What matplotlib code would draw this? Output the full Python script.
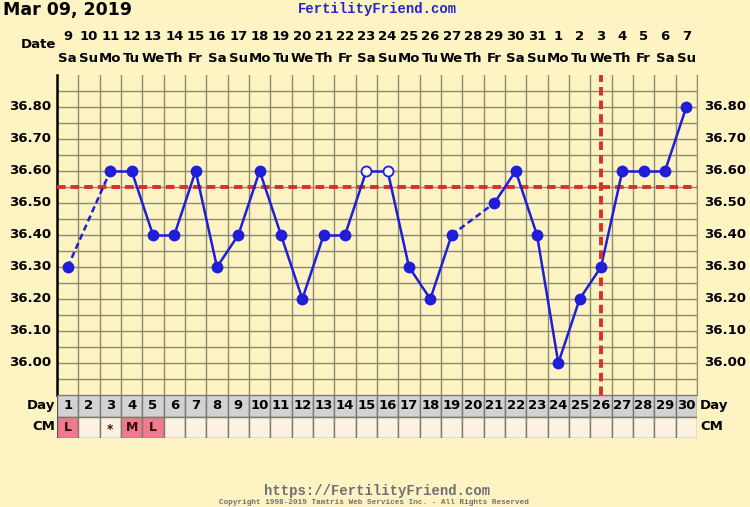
import matplotlib
matplotlib.use('Agg')
import matplotlib.pyplot as plt
import matplotlib.transforms as mtransforms
import numpy as np

# chart data
cycle_days = list(range(1, 31))
dates = ['9', '10', '11', '12', '13', '14', '15', '16', '17', '18', '19', '20', '21', '22', '23',
         '24', '25', '26', '27', '28', '29', '30', '31', '1', '2', '3', '4', '5', '6', '7']
weekdays = ['Sa', 'Su', 'Mo', 'Tu', 'We', 'Th', 'Fr'] * 5
weekdays = weekdays[:30]
temps = [36.30, None, 36.60, 36.60, 36.40, 36.40, 36.60, 36.30, 36.40, 36.60,
         36.40, 36.20, 36.40, 36.40, 36.60, 36.60, 36.30, 36.20, 36.40, None,
         36.50, 36.60, 36.40, 36.00, 36.20, 36.30, 36.60, 36.60, 36.60, 36.80]
open_days = [15, 16]
cm_obs = {1: 'L', 3: '*', 4: 'M', 5: 'L'}
coverline = 36.55
ovulation_day = 26
temp_ticks = [36.00, 36.10, 36.20, 36.30, 36.40, 36.50, 36.60, 36.70, 36.80]

BG = '#fdf3c3'
GRID = '#8f8a72'
BLUE = '#1e1ed8'
RED = '#d9302c'
W, H = 750, 507

fig = plt.figure(figsize=(W / 100, H / 100), dpi=100, facecolor=BG)

def fx(px):
    return px / W

def fy(py):
    return 1 - py / H

# main temperature grid
ax = fig.add_axes([fx(57), fy(395), fx(697) - fx(57), fy(75) - fy(395)])
ax.set_facecolor(BG)
ax.set_xlim(0.5, 30.5)
ax.set_ylim(35.9, 36.9)
ax.set_xticks(np.arange(0.5, 30.6, 1))
ax.set_yticks(np.arange(35.9, 36.86, 0.05))
ax.grid(True, color=GRID, lw=1.0)
ax.tick_params(length=0, labelleft=False, labelbottom=False)
for s in ['top', 'bottom']:
    ax.spines[s].set_visible(False)
ax.spines['right'].set_color(GRID)
ax.spines['left'].set_color('black')
ax.spines['left'].set_linewidth(1.8)

# coverline and ovulation line
ax.axhline(coverline, color=RED, lw=2.8, ls=(0, (2.2, 1.3)), zorder=3)
ax.axvline(ovulation_day, color=RED, lw=2.8, ls=(0, (2.2, 1.3)), zorder=5)

# temperature line
pts = [(d, t) for d, t in zip(cycle_days, temps) if t is not None]
for (d0, t0), (d1, t1) in zip(pts[:-1], pts[1:]):
    style = '-' if d1 - d0 == 1 else (0, (2.5, 1.5))
    ax.plot([d0, d1], [t0, t1], color=BLUE, lw=1.8, ls=style, zorder=4)
for d, t in pts:
    face = 'white' if d in open_days else BLUE
    ax.plot(d, t, 'o', ms=7.2, mfc=face, mec=BLUE, mew=1.3, zorder=6)

# temperature labels both sides
tr = mtransforms.blended_transform_factory(fig.transFigure, ax.transData)
for t in temp_ticks:
    ax.text(fx(51), t, f'{t:.2f}', transform=tr, ha='right', va='center',
            fontsize=9.5, fontweight='bold')
    ax.text(fx(704), t, f'{t:.2f}', transform=tr, ha='left', va='center',
            fontsize=9.5, fontweight='bold')

# date header
trx = mtransforms.blended_transform_factory(ax.transData, fig.transFigure)
for d, lab, wd in zip(cycle_days, dates, weekdays):
    ax.text(d, fy(37), lab, transform=trx, ha='center', va='center',
            fontsize=9.5, fontweight='bold')
    ax.text(d, fy(58), wd, transform=trx, ha='center', va='center',
            fontsize=9.5, fontweight='bold')
fig.text(fx(38), fy(45), 'Date', ha='center', va='center', fontsize=9.5, fontweight='bold')

fig.text(fx(3), fy(10), 'Mar 09, 2019', ha='left', va='center', fontsize=12.5, fontweight='bold')
fig.text(fx(377), fy(9), 'FertilityFriend.com', ha='center', va='center', fontsize=10,
         fontweight='bold', family='Liberation Mono', color='#2626c8')

# day / CM rows
ax2 = fig.add_axes([fx(57), fy(438), fx(697) - fx(57), fy(395) - fy(438)])
ax2.set_xlim(0.5, 30.5)
ax2.set_ylim(0, 2)
ax2.axis('off')
for d in cycle_days:
    ax2.add_patch(plt.Rectangle((d - 0.5, 1), 1, 1, facecolor='#d2d2d2', edgecolor='#7a7a70', lw=1))
    cm = cm_obs.get(d, '')
    cface = '#f07a8e' if cm in ('L', 'M') else '#fdf2e1'
    ax2.add_patch(plt.Rectangle((d - 0.5, 0), 1, 1, facecolor=cface, edgecolor='#7a7a70', lw=1))
    ax2.text(d, 1.5, str(d), ha='center', va='center', fontsize=9.5, fontweight='bold')
    if cm:
        ax2.text(d, 0.48 if cm != '*' else 0.4, cm, ha='center', va='center',
                 fontsize=9 if cm != '*' else 8.5, fontweight='bold', color='#3a0a0a')
ax2.plot([0.5, 0.5], [0, 2], color='#555555', lw=1.5)

fig.text(fx(55), fy(406), 'Day', ha='right', va='center', fontsize=9.5, fontweight='bold')
fig.text(fx(55), fy(427), 'CM', ha='right', va='center', fontsize=9.5, fontweight='bold')
fig.text(fx(700), fy(406), 'Day', ha='left', va='center', fontsize=9.5, fontweight='bold')
fig.text(fx(700), fy(427), 'CM', ha='left', va='center', fontsize=9.5, fontweight='bold')

# footer
fig.text(fx(377), fy(491), 'https://FertilityFriend.com', ha='center', va='center',
         fontsize=10, fontweight='bold', family='Liberation Mono', color='#707070')
fig.text(fx(374), fy(503), 'Copyright 1998-2019 Tamtris Web Services Inc. - All Rights Reserved',
         ha='center', va='center', fontsize=5.5, fontweight='bold', family='Liberation Mono',
         color='#707070')

fig.savefig('out.png', dpi=100, facecolor=BG)
